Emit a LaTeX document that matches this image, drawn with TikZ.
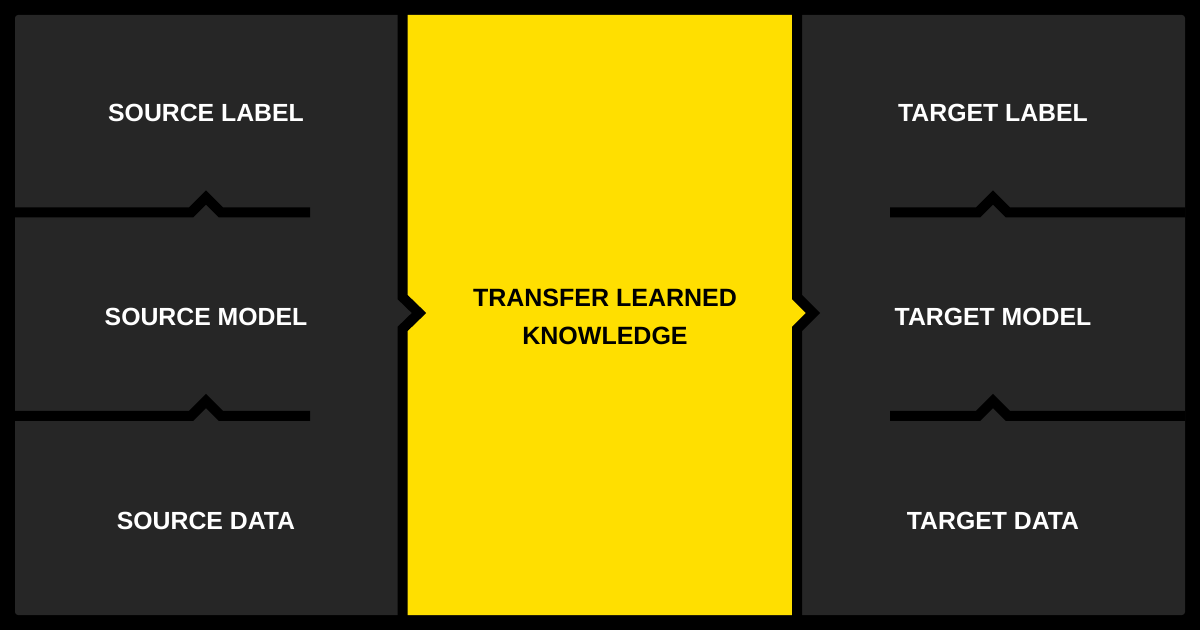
\documentclass[tikz,border=0pt]{standalone}
\usepackage{fontspec}
\setmainfont{Liberation Sans}
\usepackage{tikz}
\usetikzlibrary{positioning}
\definecolor{panelgrey}{RGB}{38,38,38}
\definecolor{knowyellow}{RGB}{255,223,0}
\tikzset{x=0.5pt, y=-0.5pt, % pixel units, y running down
         divider/.style={line width=5pt, black, miter limit=10}, % black separating strokes
         lightlabel/.style={text=white, font=\bfseries\fontsize{12.4}{14}\selectfont},
         darklabel/.style={text=black, align=center,
           font=\bfseries\fontsize{12.5}{19}\selectfont}}

\begin{document}
\begin{tikzpicture}
\useasboundingbox (0,0) rectangle (1200,630);
\fill[black] (0,0) rectangle (1200,630);
\fill[panelgrey, rounded corners=1.5pt] (15,15) rectangle (1185,615);

% middle panel with its notch and bump
\fill[knowyellow] (402.5,15) -- (797,15) -- (797,297) -- (813,313) -- (797,329)
    -- (797,615) -- (402.5,615) -- (402.5,329) -- (419,313) -- (402.5,297) -- cycle;

\begin{scope}[every path/.style={divider}]
    \draw (402.5,0) -- (402.5,297) -- (419,313) -- (402.5,329) -- (402.5,630);
    \draw (797,0) -- (797,297) -- (813,313) -- (797,329) -- (797,630);
    \draw (15,212.5) -- (191,212.5) -- (206,197.5) -- (221,212.5) -- (310,212.5);
    \draw (15,416) -- (191,416) -- (206,401) -- (221,416) -- (310,416);
    \draw (890,212.5) -- (978,212.5) -- (993,197.5) -- (1008,212.5) -- (1185,212.5);
    \draw (890,416) -- (978,416) -- (993,401) -- (1008,416) -- (1185,416);
\end{scope}

\begin{scope}[every node/.style={lightlabel}]
    \node (slabel) at (206,113) {SOURCE LABEL};
    \node (smodel) at (206,317) {SOURCE MODEL};
    \node (sdata)  at (206,521) {SOURCE DATA};
    \node (tlabel) at (993,113) {TARGET LABEL};
    \node (tmodel) at (993,317) {TARGET MODEL};
    \node (tdata)  at (993,521) {TARGET DATA};
\end{scope}

\node[darklabel] (transfer) at (605,317) {TRANSFER LEARNED\\KNOWLEDGE};
\end{tikzpicture}
\end{document}
